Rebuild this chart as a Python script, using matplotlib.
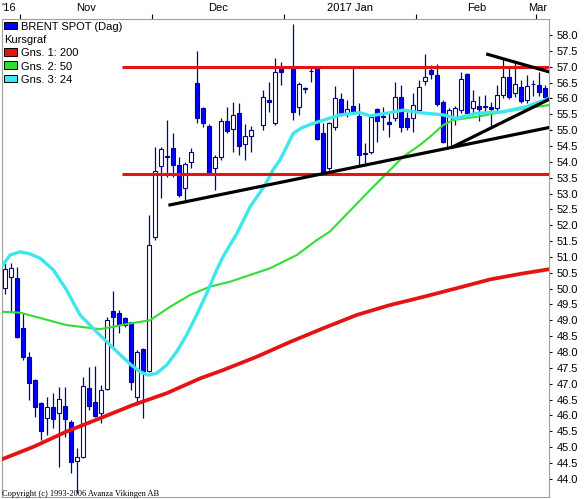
import numpy as np
import pandas as pd
import matplotlib
matplotlib.use("Agg")
import matplotlib.pyplot as plt
from matplotlib.patches import Rectangle
from matplotlib.transforms import blended_transform_factory

plt.rcParams['font.family'] = ['Liberation Sans', 'DejaVu Sans']

#prepare data
days = pd.bdate_range("2016-10-27", "2017-03-02")
holidays = ["2016-12-26", "2017-01-02"]

opens = [50.01, 50.38, 50.32, 48.75, 47.85, 47.12, 46.38, 45.91, 46.26, 46.07,
         46.30, 45.78, 44.56, 44.70, 46.85, 46.41, 46.07, 46.82, 49.29, 49.22,
         49.06, 48.94, 46.59, 48.09, 47.41, 51.64, 53.88, 54.18, 54.43, 53.90,
         53.16, 53.98, 56.48, 55.69, 55.13, 53.80, 54.14, 55.30, 55.03, 55.53,
         54.55, 54.81, 55.16, 55.95, 55.21, 56.95, 57.00, 55.74, 56.30, 56.86,
         56.95, 54.90, 53.79, 55.11, 55.98, 55.55, 55.76, 55.45, 54.25, 54.32,
         55.66, 55.40, 55.25, 55.37, 56.03, 55.37, 55.37, 55.64, 56.56, 56.90,
         56.74, 55.90, 54.48, 55.40, 55.63, 56.77, 55.71, 55.76, 55.73, 55.72,
         55.71, 56.11, 56.68, 56.18, 56.35, 55.95, 56.44, 56.42, 56.32]
highs = [50.80, 50.80, 50.69, 49.22, 48.01, 47.15, 46.42, 46.59, 46.70, 46.91,
         46.91, 45.85, 44.96, 47.22, 47.54, 47.56, 46.96, 49.11, 49.92, 49.32,
         49.09, 48.96, 48.06, 48.12, 52.32, 54.48, 54.48, 55.32, 54.90, 54.16,
         54.00, 54.43, 57.50, 55.74, 55.18, 54.20, 55.37, 55.74, 55.90, 55.84,
         55.19, 55.13, 56.27, 56.53, 57.27, 57.16, 58.35, 56.53, 56.37, 56.95,
         57.00, 55.21, 55.26, 56.39, 56.16, 55.95, 56.95, 55.84, 54.60, 55.48,
         55.69, 55.74, 55.53, 56.53, 56.42, 55.58, 56.16, 56.58, 57.40, 57.05,
         57.08, 55.95, 55.69, 55.76, 56.84, 56.79, 56.27, 56.08, 56.11, 55.90,
         56.42, 57.23, 57.00, 57.16, 56.58, 56.74, 56.58, 56.84, 56.42]
lows = [49.83, 49.27, 48.43, 47.75, 46.49, 45.96, 45.22, 45.38, 45.59, 44.38,
        45.33, 44.17, 43.54, 44.66, 46.17, 45.96, 45.75, 46.80, 48.12, 48.59,
        48.80, 46.80, 46.33, 45.91, 47.38, 51.53, 52.85, 53.53, 53.53, 52.90,
        52.80, 53.79, 55.22, 55.11, 53.62, 53.11, 54.06, 54.91, 54.32, 54.21,
        54.06, 54.32, 55.00, 55.58, 55.15, 56.42, 55.32, 55.48, 56.18, 56.53,
        54.68, 53.58, 53.74, 55.00, 55.44, 55.42, 55.50, 53.90, 53.90, 54.25,
        54.63, 55.00, 54.77, 55.30, 54.95, 55.00, 54.95, 55.56, 56.42, 56.60,
        55.76, 54.58, 54.46, 55.16, 55.55, 55.48, 55.48, 55.30, 55.56, 55.11,
        55.56, 56.01, 55.98, 56.04, 55.85, 55.85, 56.08, 56.08, 55.95]
closes = [50.61, 50.64, 48.48, 47.85, 47.01, 46.26, 45.52, 46.27, 45.88, 46.51,
          45.90, 44.52, 44.70, 46.93, 46.31, 45.99, 46.80, 49.01, 49.11, 48.85,
          48.85, 47.06, 47.99, 47.39, 51.38, 53.72, 54.39, 54.14, 53.90, 52.95,
          53.93, 54.30, 55.37, 55.23, 53.64, 54.16, 55.29, 54.98, 55.48, 54.50,
          54.81, 55.00, 56.03, 55.90, 56.84, 56.82, 55.58, 56.44, 56.33, 56.88,
          54.71, 53.61, 55.21, 56.00, 55.55, 55.66, 55.55, 54.21, 54.28, 55.42,
          55.30, 55.43, 55.19, 56.03, 55.09, 55.11, 55.79, 56.35, 56.66, 56.76,
          55.82, 54.63, 55.63, 55.69, 56.60, 55.53, 55.92, 55.66, 55.75, 55.66,
          56.10, 56.68, 56.05, 56.45, 55.93, 56.39, 56.46, 56.21, 56.05]

#moving averages (day slot, value)
ma200_x = [-0.5, 4.7, 10.2, 15.8, 21.3, 26.9, 32.5, 36.3, 41.9, 47.5, 53.0, 58.6,
           64.1, 69.7, 75.2, 80.8, 86.3, 90.6]
ma200 = [44.62, 45.01, 45.49, 45.91, 46.33, 46.70, 47.17, 47.43, 47.85, 48.32, 48.75, 49.17,
         49.48, 49.74, 50.01, 50.29, 50.48, 50.61]
ma50_x = [-0.5, 2.5, 10.2, 15.8, 20.8, 24.1, 27.5, 30.8, 34.1, 37.5, 44.1, 48.6, 51.9, 54.1,
          60.8, 63.6, 66.3, 69.1, 70.8, 73.0, 74.7, 78.6, 83.0, 86.9, 90.6]
ma50 = [49.27, 49.24, 48.85, 48.72, 48.90, 49.00, 49.43, 49.80, 50.06, 50.22, 50.64, 51.06, 51.53, 51.80,
        53.11, 53.64, 54.16, 54.53, 54.79, 55.16, 55.32, 55.42, 55.58, 55.69, 55.79]
ma24_x = [-0.5, 0.8, 2.45, 4.0, 5.8, 8.0, 10.2, 12.45, 15.2, 18.0, 20.8, 22.45, 23.83, 25.23,
          26.9, 28.57, 30.23, 31.9, 33.57, 35.23, 36.3, 38.6, 40.8, 43.3, 44.6, 45.8, 48.0,
          49.5, 51.3, 55.8, 59.1, 60.8, 64.1, 66.3, 69.1, 73.0, 75.2, 78.6, 83.0, 86.9, 90.6]
ma24 = [50.72, 51.06, 51.16, 51.10, 50.96, 50.59, 49.96, 49.17, 48.64, 48.12, 47.62, 47.38, 47.27, 47.33,
        47.59, 48.01, 48.54, 49.17, 49.85, 50.59, 51.01, 51.74, 52.58, 53.27, 53.74, 54.06, 54.90,
        55.08, 55.21, 55.48, 55.55, 55.45, 55.55, 55.63, 55.55, 55.48, 55.37, 55.53, 55.58, 55.74, 56.00]

#support / resistance
levels = [57.0, 53.62]
level_start = 19.45
trend_x = [[27.45, 90.6], [74.67, 90.6], [80.4, 90.6]]
trend_y = [[52.64, 55.08], [54.48, 55.97], [57.39, 56.84]]

months = ["Nov", "Dec", "2017 Jan", "Feb"]
yticks = np.arange(44.0, 58.01, 0.5)

#slot index for every weekday, holidays keep an empty slot
slot = np.array([i for i, d in enumerate(days) if d.strftime("%Y-%m-%d") not in holidays])
o = np.array(opens); h = np.array(highs); l = np.array(lows); c = np.array(closes)
up = c >= o

#month boundaries
first = [i for i in range(1, len(days)) if days[i].month != days[i - 1].month]
bounds = [f - 0.5 for f in first]

W, H = 584, 499
fig = plt.figure(figsize=(W / 100, H / 100), dpi=100)
ax = fig.add_axes([2 / W, 2 / H, 547 / W, 478 / H])

navy = '#000099'
ax.vlines(slot, l, h, color=navy, lw=0.9, zorder=2)
body_lo = np.minimum(o, c)
body_h = np.maximum(np.abs(c - o), 0.02)
ax.bar(slot[up], body_h[up], bottom=body_lo[up], width=0.72, color='white',
       edgecolor=navy, linewidth=0.8, zorder=3)
ax.bar(slot[~up], body_h[~up], bottom=body_lo[~up], width=0.72, color='#0000ff',
       edgecolor=navy, linewidth=0.8, zorder=3)

#indicators
ax.plot(ma200_x, ma200, color='#e41414', lw=2.7, zorder=4, solid_joinstyle='round')
ax.plot(ma50_x, ma50, color='#33dd33', lw=1.5, zorder=4, solid_joinstyle='round')
ax.plot(ma24_x, ma24, color='#3ee6ee', lw=2.4, zorder=4, solid_joinstyle='round')
for lv in levels:
    ax.plot([level_start, 90.62], [lv, lv], color='#e41414', lw=2.2, zorder=5, solid_capstyle='butt')
for tx, ty in zip(trend_x, trend_y):
    ax.plot(tx, ty, color='black', lw=2.3, zorder=6)

ax.set_xlim(-0.55, 90.62)
ax.set_ylim(43.426, 58.505)

for s in ax.spines.values():
    s.set_color('#a0a0a0')
    s.set_linewidth(0.8)

ax.xaxis.tick_top()
ax.set_xticks(bounds)
ax.set_xticklabels([])
ax.tick_params(axis='x', direction='out', length=3.6, width=0.8, color='black')

ax.yaxis.tick_right()
ax.set_yticks(yticks)
ax.set_yticklabels([f"{v:.1f}" for v in yticks], fontsize=8)
ax.tick_params(axis='y', direction='out', length=2.3, width=0.8, color='black', pad=3)

#month labels above the plot
tr = blended_transform_factory(ax.transData, fig.transFigure)
for k, name in enumerate(months):
    ax.text((bounds[k] + bounds[k + 1]) / 2, 1 - 10.7 / H, name, transform=tr,
            ha='center', va='baseline', fontsize=8)
fig.text(1 / W, 1 - 10.7 / H, "'16", ha='left', va='baseline', fontsize=8)
fig.text(547 / W, 1 - 10.7 / H, "Mar", ha='right', va='baseline', fontsize=8)

#legend drawn by hand
rows = [("BRENT SPOT (Dag)", '#0000ff', 30.0),
        ("Kursgraf", None, 43.0),
        ("Gns. 1: 200", '#e41414', 56.3),
        ("Gns. 2: 50", '#33dd33', 69.6),
        ("Gns. 3: 24", '#3ee6ee', 82.9)]
for label, col, base in rows:
    if col is None:
        fig.text(4 / W, 1 - base / H, label, ha='left', va='baseline', fontsize=8, zorder=10)
        continue
    fig.add_artist(Rectangle((4 / W, 1 - (base - 0.6) / H), 12.7 / W, 7.6 / H,
                             transform=fig.transFigure, facecolor=col,
                             edgecolor='black', lw=0.7, zorder=10))
    fig.text(20.7 / W, 1 - base / H, label, ha='left', va='baseline', fontsize=8, zorder=10)

fig.text(2 / W, 1 - 495.5 / H, "Copyright (c) 1993-2006 Avanza Vikingen AB",
         family=['Liberation Serif', 'DejaVu Serif'], fontsize=6, ha='left', va='baseline')

fig.savefig("out.png", dpi=100)
